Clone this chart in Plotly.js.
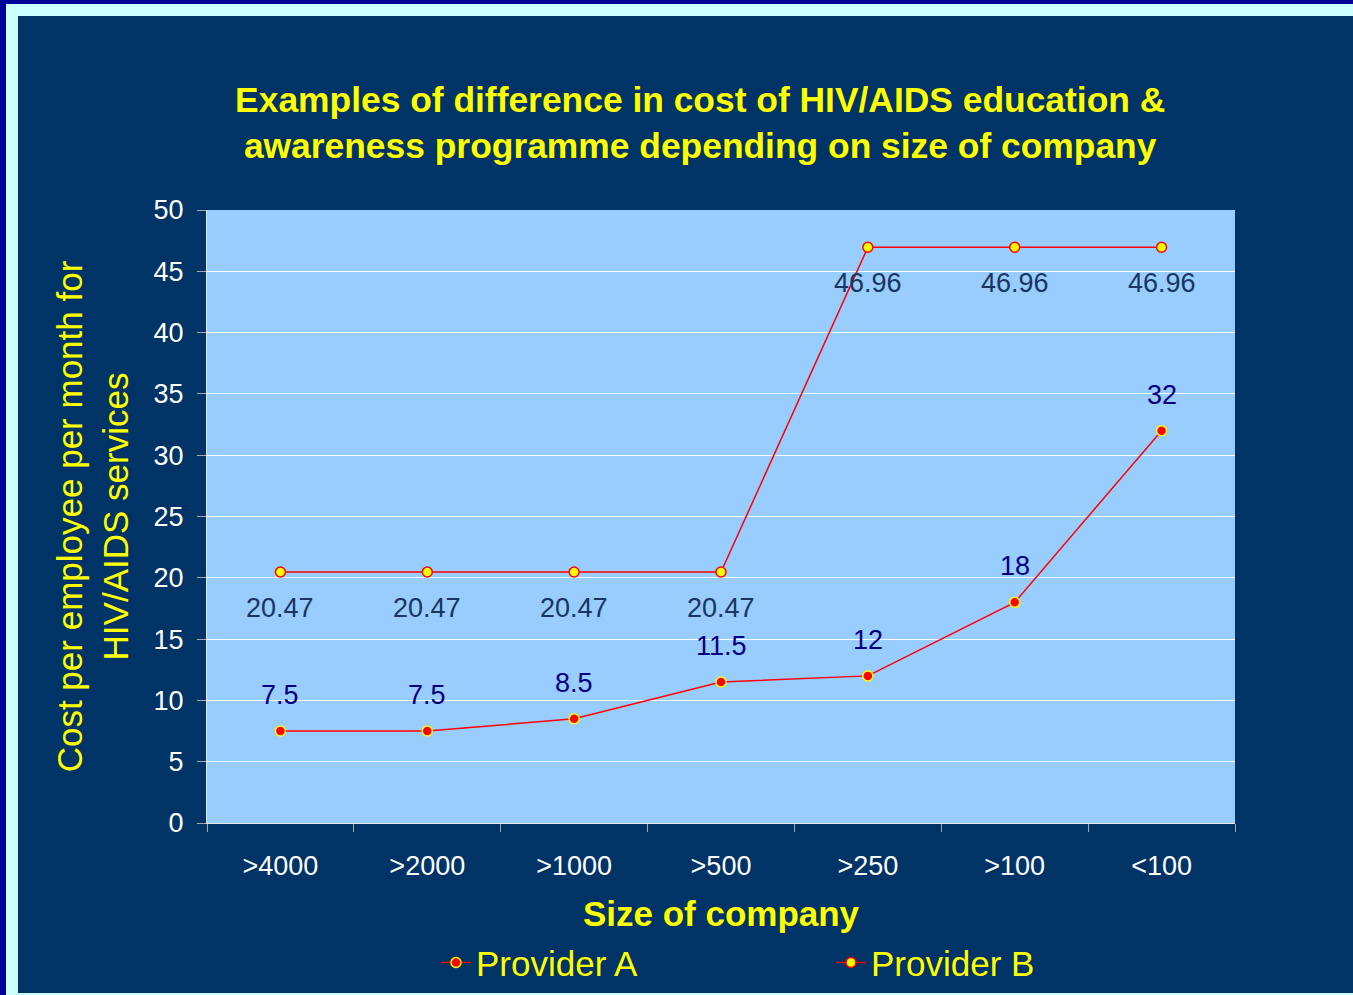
<!DOCTYPE html>
<html>
<head>
<meta charset="utf-8">
<script src="https://cdn.plot.ly/plotly-3.0.1.min.js"></script>
<style>
html,body{margin:0;padding:0;width:1353px;height:995px;overflow:hidden;background:#000099;}
#frame{position:absolute;left:6px;top:4px;width:1347px;height:991px;background:#CCFFFF;}
#chart{position:absolute;left:18px;top:16px;width:1335px;height:977px;}
</style>
</head>
<body>
<div id="frame"></div>
<div id="chart"></div>
<script>
const categories = ['>4000','>2000','>1000','>500','>250','>100','<100'];
const providerA = [7.5, 7.5, 8.5, 11.5, 12, 18, 32];
const providerB = [20.47, 20.47, 20.47, 20.47, 46.96, 46.96, 46.96];
const labelsA = ['7.5','7.5','8.5','11.5','12','18','32'];
const labelsB = ['20.47','20.47','20.47','20.47','46.96','46.96','46.96'];

const font = 'Liberation Sans, Arial, sans-serif';

const traces = [
  {
    x: categories, y: providerA, name: 'Provider A', type: 'scatter', mode: 'lines+markers',
    line: {color: '#FF0000', width: 1.5},
    marker: {color: '#FF0000', size: 10, line: {color: '#FFFF00', width: 1.5}}
  },
  {
    x: categories, y: providerB, name: 'Provider B', type: 'scatter', mode: 'lines+markers',
    line: {color: '#FF0000', width: 1.5},
    marker: {color: '#FFFF00', size: 10, line: {color: '#FF0000', width: 1.5}}
  }
];

const annotations = [];
categories.forEach((c, i) => {
  annotations.push({x: c, y: providerA[i], text: labelsA[i], showarrow: false, yshift: 36,
    font: {family: font, size: 27, color: '#000080'}});
  annotations.push({x: c, y: providerB[i], text: labelsB[i], showarrow: false, yshift: -36,
    font: {family: font, size: 27, color: '#17375E'}});
});

const layout = {
  width: 1335, height: 977,
  paper_bgcolor: '#003366', plot_bgcolor: '#99CCFF',
  margin: {l: 189, r: 118, t: 194, b: 170},
  font: {family: font},
  title: {
    text: '<b>Examples of difference in cost of HIV/AIDS education &amp;<br>awareness programme depending on size of company</b>',
    font: {family: font, size: 35.4, color: '#FFFF00'},
    x: 0.511, xanchor: 'center', y: 0.902, yanchor: 'middle'
  },
  xaxis: {
    type: 'category', range: [-0.5, 6.5], automargin: false,
    tickfont: {family: font, size: 27, color: '#FFFFFF'},
    ticks: 'outside', tickson: 'boundaries', ticklen: 8, tickcolor: '#A6A6A6',
    ticklabelstandoff: 19,
    showline: true, linecolor: '#E6E6E6', linewidth: 1,
    showgrid: false,
    title: {text: '<b>Size of company</b>', font: {family: font, size: 35, color: '#FFFF00'}, standoff: 29}
  },
  yaxis: {
    range: [0, 50], dtick: 5, tick0: 0, automargin: false,
    tickfont: {family: font, size: 27, color: '#FFFFFF'},
    ticks: 'outside', ticklen: 9, tickcolor: '#A6A6A6',
    ticklabelstandoff: 8,
    showline: true, linecolor: '#E6E6E6', linewidth: 1,
    gridcolor: '#FFFFFF', gridwidth: 1, zeroline: false,
    title: {text: 'Cost per employee per month for<br>HIV/AIDS services', font: {family: font, size: 35, color: '#FFFF00'}, standoff: 14}
  },
  legend: {
    orientation: 'h', x: 0.607, xanchor: 'center',
    yref: 'container', y: 0.031, yanchor: 'middle',
    font: {family: font, size: 35, color: '#FFFF00'},
    bgcolor: 'rgba(0,0,0,0)', entrywidth: 350, entrywidthmode: 'pixels'
  },
  annotations: annotations,
  showlegend: true
};

Plotly.newPlot('chart', traces, layout, {displayModeBar: false, staticPlot: true});
</script>
</body>
</html>
